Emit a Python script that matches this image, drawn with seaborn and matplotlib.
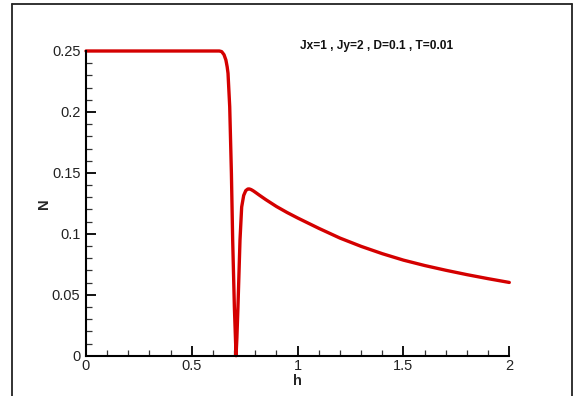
import matplotlib
matplotlib.use("Agg")
import matplotlib.pyplot as plt
from matplotlib.lines import Line2D
from matplotlib.ticker import MultipleLocator, FixedLocator
import seaborn as sns
import pandas as pd

# data
h_vals = [0.0, 0.3, 0.63, 0.641, 0.652, 0.661, 0.667, 0.671, 0.679, 0.687, 0.693,
          0.701, 0.706, 0.709, 0.713, 0.718, 0.7276, 0.7355, 0.745, 0.755, 0.765,
          0.772, 0.78, 0.79, 0.80, 0.82, 0.85, 0.90, 0.95, 1.0, 1.1, 1.2, 1.3, 1.4,
          1.5, 1.6, 1.7, 1.8, 1.9, 2.0]
N_vals = [0.25, 0.25, 0.25, 0.2495, 0.247, 0.2426, 0.237, 0.2317, 0.2043, 0.1496, 0.0949,
          0.0402, 0.015, 0.0, 0.015, 0.0402, 0.0949, 0.122, 0.1315, 0.1355, 0.1368,
          0.1368, 0.1363, 0.1353, 0.1341, 0.1316, 0.1280, 0.1224, 0.1175, 0.1130, 0.1045,
          0.0965, 0.0897, 0.0837, 0.0784, 0.0740, 0.0701, 0.0665, 0.0632, 0.0601]
x_ticks = [0, 0.5, 1, 1.5, 2]
x_tick_labels = ["0", "0.5", "1", "1.5", "2"]
y_ticks = [0, 0.05, 0.1, 0.15, 0.2, 0.25]
y_tick_labels = ["0", "0.05", "0.1", "0.15", "0.2", "0.25"]
title_text = "Jx=1 , Jy=2 , D=0.1 , T=0.01"

sns.set_style("ticks")
plt.rcParams['font.family'] = ['Liberation Sans', 'DejaVu Sans']

fig = plt.figure(figsize=(5.75, 3.96), dpi=100)
ax = fig.add_axes([86/575, 1-355.7/396, (509.3-86)/575, (355.7-51)/396])

df = pd.DataFrame({"h": h_vals, "N": N_vals})
sns.lineplot(data=df, x="h", y="N", ax=ax, color="#d40000", linewidth=2.4,
             estimator=None, sort=False, clip_on=False)

ax.set_xlim(0, 2)
ax.set_ylim(0, 0.25)
ax.xaxis.set_major_locator(FixedLocator(x_ticks))
ax.set_xticklabels(x_tick_labels)
ax.yaxis.set_major_locator(FixedLocator(y_ticks))
ax.set_yticklabels(y_tick_labels)
ax.xaxis.set_minor_locator(MultipleLocator(0.1))
ax.yaxis.set_minor_locator(MultipleLocator(0.01))

for s in ["top", "right"]:
    ax.spines[s].set_visible(False)
for s in ["left", "bottom"]:
    ax.spines[s].set_linewidth(1.5)
    ax.spines[s].set_color("black")

ax.tick_params(axis="both", which="major", direction="in", length=7, width=1.3,
               labelsize=10.5, color="black", labelcolor="#222222")
ax.tick_params(axis="both", which="minor", direction="in", length=4.5, width=0.9,
               color="#333333")
ax.tick_params(axis="x", which="major", pad=2.5)
ax.tick_params(axis="y", which="major", pad=4)

ax.set_xlabel("h", fontsize=10.5, fontweight="bold", labelpad=0.5)
ax.set_ylabel("N", fontsize=10.5, fontweight="bold")
ax.yaxis.set_label_coords(-0.082, 0.5)

fig.text(377/575, 1-45.7/396, title_text, fontsize=8.6, fontweight="bold",
         ha="center", va="center", color="#111111")

# outer frame (open at bottom)
frame_kw = dict(color="#222222", linewidth=1.3, transform=fig.transFigure)
fig.add_artist(Line2D([12/575, 12/575], [0, 1-3.5/396], **frame_kw))
fig.add_artist(Line2D([12/575, 571.7/575], [1-3.5/396, 1-3.5/396], **frame_kw))
fig.add_artist(Line2D([571.7/575, 571.7/575], [0, 1-3.5/396], **frame_kw))

fig.savefig("out.png", dpi=100)
